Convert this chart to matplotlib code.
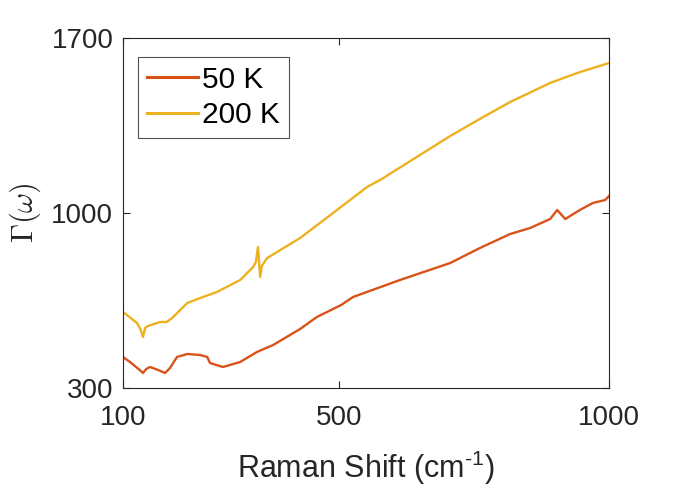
import numpy as np
import matplotlib
matplotlib.use("Agg")
import matplotlib.pyplot as plt

# values
shift_50 = [100, 113, 131, 137, 143, 150, 165, 178, 187, 200, 219, 243, 256, 261, 285,
            317, 348, 378, 428, 459, 504, 526, 613, 706, 761, 817, 854, 891, 904, 919,
            946, 970, 993, 1000]
gamma_50 = [424, 404, 372, 360, 376, 384, 372, 360, 380, 424, 436, 432, 424, 400, 384,
            404, 444, 472, 536, 584, 632, 664, 732, 800, 860, 916, 940, 976, 1012, 976,
            1012, 1040, 1052, 1068]

shift_200 = [100, 126, 133, 137, 141, 146, 169, 181, 191, 219, 243, 274, 317, 341, 346,
             350, 352, 354, 357, 367, 428, 489, 552, 576, 706, 767, 817, 891, 941, 1000]
gamma_200 = [604, 560, 532, 504, 540, 548, 564, 564, 580, 640, 660, 684, 732, 784, 804,
             864, 804, 744, 788, 820, 900, 1000, 1104, 1132, 1308, 1384, 1444, 1520, 1560, 1600]

plt.rcParams['font.family'] = ['Liberation Sans', 'DejaVu Sans']
plt.rcParams['mathtext.fontset'] = 'custom'
plt.rcParams['mathtext.rm'] = 'Liberation Sans'
plt.rcParams['mathtext.it'] = 'Liberation Sans:italic'

fig = plt.figure(figsize=(6.74, 4.87), dpi=100)
ax = fig.add_axes([0.1825, 0.2033, 0.7211, 0.7187])

ax.plot(shift_50, gamma_50, color="#D95319", lw=1.7, label="50 K")
ax.plot(shift_200, gamma_200, color="#EDB120", lw=1.7, label="200 K")

ax.set_xlim(100, 1000)
ax.set_ylim(300, 1700)
ax.set_xticks([100, 500, 1000])
ax.set_yticks([300, 1000, 1700])
ax.tick_params(direction="in", length=5, width=0.8, top=True, right=True,
               labelsize=20, colors="#262626")
ax.tick_params(axis="x", pad=12)
ax.tick_params(axis="y", pad=7)
for s in ax.spines.values():
    s.set_color("#262626")
    s.set_linewidth(0.8)

ax.set_xlabel(r"Raman Shift (cm$^{\text{-}1}$)", fontsize=22, color="#262626", labelpad=13)
ax.set_ylabel(r"$\Gamma(\omega)$", fontsize=22, color="#262626", labelpad=6,
              math_fontfamily="cm")

leg = ax.legend(loc="upper left", bbox_to_anchor=(0.031, 0.946), borderaxespad=0,
                prop={"size": 21.5}, frameon=True, fancybox=False,
                edgecolor="#262626", handlelength=1.7, handletextpad=0.15,
                borderpad=0.3, labelspacing=0.25)
leg.get_frame().set_linewidth(0.8)
for line in leg.get_lines():
    line.set_linewidth(2.2)

fig.savefig("out.png", dpi=100)
